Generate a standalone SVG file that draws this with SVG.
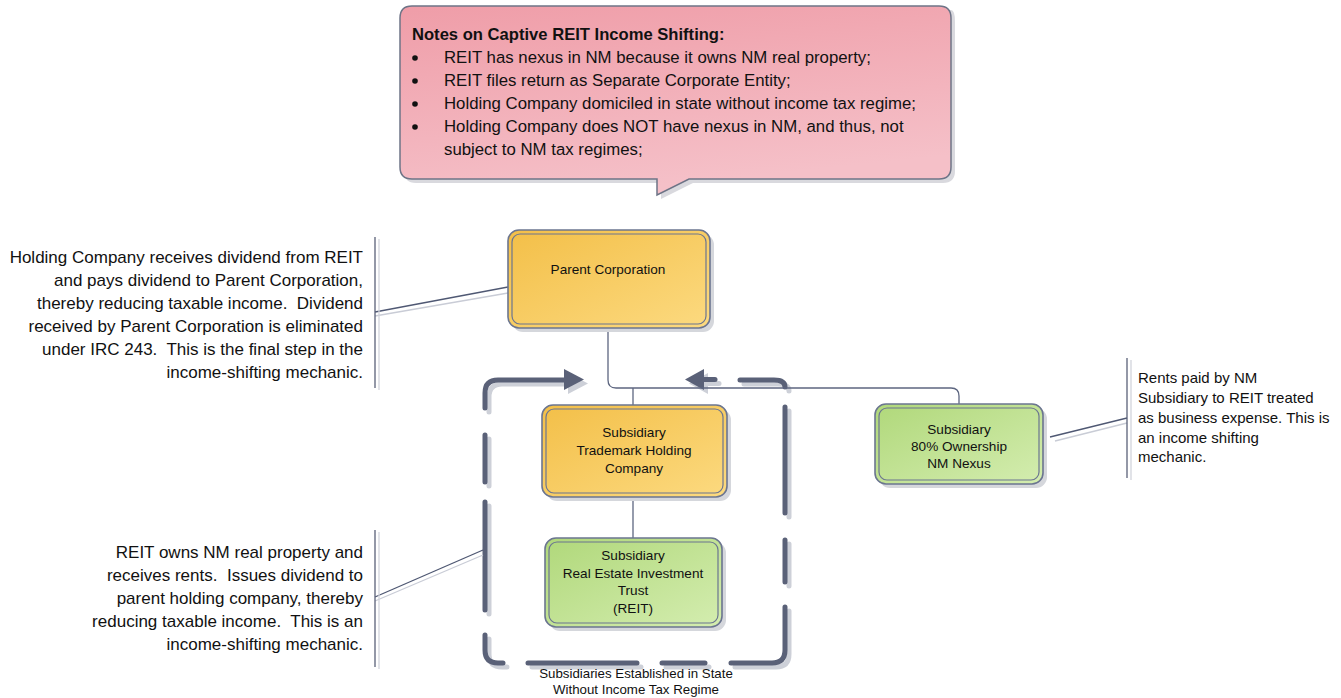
<svg xmlns="http://www.w3.org/2000/svg" width="1341" height="698" viewBox="0 0 1341 698">
<defs>
<linearGradient id="gPink" x1="0" y1="0" x2="0.3" y2="1">
<stop offset="0" stop-color="#ef9da8"/>
<stop offset="1" stop-color="#f5c0c8"/>
</linearGradient>
<linearGradient id="gYel" x1="0" y1="0" x2="1" y2="1">
<stop offset="0" stop-color="#f3bf48"/>
<stop offset="1" stop-color="#fcda80"/>
</linearGradient>
<linearGradient id="gGrn" x1="0" y1="0" x2="1" y2="1">
<stop offset="0" stop-color="#b0d87a"/>
<stop offset="1" stop-color="#d4edb0"/>
</linearGradient>
<style>
text{font-family:"Liberation Sans",Arial,sans-serif;fill:#111;white-space:pre;}
.note{font-size:17px;}
.call{font-size:16.8px;}
.node{font-size:13.6px;text-anchor:middle;}
.outer{stroke:#6b7590;stroke-width:1.6;}
.inner{fill:none;stroke:#6b7590;stroke-width:1.2;}
.shadow{fill:#d5d7dc;}
.conn{fill:none;stroke:#5d6680;stroke-width:1.3;}
.leader{fill:none;stroke:#4f5873;stroke-width:1.3;}
.leaderS{fill:none;stroke:#c9ccd6;stroke-width:1.3;}
.cont{fill:none;stroke:#5a6178;stroke-width:5;stroke-linecap:round;}
.contS{fill:none;stroke:#cdd0d8;stroke-width:5;stroke-linecap:round;}
.contA{fill:#5a6178;}
.contAS{fill:#cdd0d8;}
</style>
</defs>

<rect width="1341" height="698" fill="#ffffff"/>

<!-- Callout -->
<g id="callout">
<path d="M416,10 H951 Q955,10 955,22 V171 Q955,183 943,183 H693 L661,199 V183 H416 Q404,183 404,171 V22 Q404,10 416,10 Z" fill="#d9d9de"/>
<path d="M412,6 H939 Q951,6 951,18 V167 Q951,179 939,179 H689 L657,195 V179 H412 Q400,179 400,167 V18 Q400,6 412,6 Z" fill="url(#gPink)" stroke="#6e7487" stroke-width="1.5"/>
<text x="412" y="40" style="font-size:16.6px;font-weight:bold;">Notes on Captive REIT Income Shifting:</text>
<g fill="#111">
<circle cx="415" cy="58" r="2.8"/>
<circle cx="415" cy="81" r="2.8"/>
<circle cx="415" cy="104" r="2.8"/>
<circle cx="415" cy="127" r="2.8"/>
</g>
<text class="call" x="444" y="63">REIT has nexus in NM because it owns NM real property;</text>
<text class="call" x="444" y="86">REIT files return as Separate Corporate Entity;</text>
<text class="call" x="444" y="109">Holding Company domiciled in state without income tax regime;</text>
<text class="call" x="444" y="132">Holding Company does NOT have nexus in NM, and thus, not</text>
<text class="call" x="444" y="155">subject to NM tax regimes;</text>
</g>

<!-- Container (dashed boundary) -->
<g id="container">
<g transform="translate(4,4)">
<path class="contS" d="M485,408 V393 Q485,380 498,380 H567"/>
<polygon class="contAS" points="564,369 584,379.5 564,390"/>
<polygon class="contAS" points="685,379.5 704,369 704,390"/>
<path class="contS" d="M700,379.5 H715"/>
<path class="contS" d="M740,380 H774 Q785,380 785,387"/>
<path class="contS" d="M785,407 V513 M785,540 V582 M785,607 V650 Q785,663 772,663 H731 M705,663 H662 M637,663 H528 M503,663 H498 Q485,663 485,650 V635 M485,610 V502 M485,482 V435"/>
</g>
<path class="cont" d="M485,408 V393 Q485,380 498,380 H567"/>
<polygon class="contA" points="564,369 584,379.5 564,390"/>
<polygon class="contA" points="685,379.5 704,369 704,390"/>
<path class="cont" d="M700,379.5 H715"/>
<path class="cont" d="M740,380 H774 Q785,380 785,387"/>
<path class="cont" d="M785,407 V513 M785,540 V582 M785,607 V650 Q785,663 772,663 H731 M705,663 H662 M637,663 H528 M503,663 H498 Q485,663 485,650 V635 M485,610 V502 M485,482 V435"/>
<text x="636" y="678" style="font-size:13.3px;text-anchor:middle;">Subsidiaries Established in State</text>
<text x="636" y="694" style="font-size:13.3px;text-anchor:middle;">Without Income Tax Regime</text>
</g>

<!-- Connectors -->
<g id="connectors">
<path class="conn" d="M608,328 V380 Q608,388 616,388 H951 Q959,388 959,396 V404"/>
<path class="conn" d="M633,388 V405"/>
<path class="conn" d="M633,497 V538"/>
<path class="leaderS" d="M375,316 L508,293"/>
<path class="leader" d="M375,312 L508,287"/>
<path class="leaderS" d="M375,601 L483,555"/>
<path class="leader" d="M375,597 L483,550"/>
<path class="leaderS" d="M1055,441 L1127,423"/>
<path class="leader" d="M1050,437 L1127,418"/>
</g>

<!-- Parent Corporation -->
<g id="parent">
<rect class="shadow" x="512" y="234" width="202" height="98" rx="11"/>
<rect class="outer" x="508" y="230" width="202" height="98" rx="11" fill="url(#gYel)"/>
<rect class="inner" x="512" y="234" width="194" height="90" rx="8"/>
<text class="node" x="608" y="274">Parent Corporation</text>
</g>

<!-- Trademark Holding -->
<g id="trademark">
<rect class="shadow" x="546" y="409" width="185" height="92" rx="11"/>
<rect class="outer" x="542" y="405" width="185" height="92" rx="11" fill="url(#gYel)"/>
<rect class="inner" x="546" y="409" width="177" height="84" rx="8"/>
<text class="node" x="634" y="437">Subsidiary</text>
<text class="node" x="634" y="455">Trademark Holding</text>
<text class="node" x="634" y="473">Company</text>
</g>

<!-- REIT -->
<g id="reit">
<rect class="shadow" x="549" y="542" width="177" height="89" rx="11"/>
<rect class="outer" x="545" y="538" width="177" height="89" rx="11" fill="url(#gGrn)"/>
<rect class="inner" x="549" y="542" width="169" height="81" rx="8"/>
<text class="node" x="633" y="560">Subsidiary</text>
<text class="node" x="633" y="577.5">Real Estate Investment</text>
<text class="node" x="633" y="595">Trust</text>
<text class="node" x="633" y="612.5">(REIT)</text>
</g>

<!-- 80% Ownership -->
<g id="nm-sub">
<rect class="shadow" x="879" y="408" width="168" height="80" rx="11"/>
<rect class="outer" x="875" y="404" width="168" height="80" rx="11" fill="url(#gGrn)"/>
<rect class="inner" x="879" y="408" width="160" height="72" rx="8"/>
<text class="node" x="959" y="434">Subsidiary</text>
<text class="node" x="959" y="451">80% Ownership</text>
<text class="node" x="959" y="468">NM Nexus</text>
</g>

<!-- Annotation: Parent -->
<g id="note-parent">
<path d="M379,239 V390" stroke="#d2d4dc" stroke-width="1.3"/>
<path d="M375,237 V388" stroke="#5a6178" stroke-width="1.3"/>
<g class="note" text-anchor="end">
<text x="363" y="263">Holding Company receives dividend from REIT</text>
<text x="363" y="286">and pays dividend to Parent Corporation,</text>
<text x="363" y="309">thereby reducing taxable income.  Dividend</text>
<text x="363" y="332">received by Parent Corporation is eliminated</text>
<text x="363" y="355">under IRC 243.  This is the final step in the</text>
<text x="363" y="378">income-shifting mechanic.</text>
</g>
</g>

<!-- Annotation: REIT -->
<g id="note-reit">
<path d="M379,532 V669" stroke="#d2d4dc" stroke-width="1.3"/>
<path d="M375,530 V667" stroke="#5a6178" stroke-width="1.3"/>
<g class="note" text-anchor="end">
<text x="363" y="558">REIT owns NM real property and</text>
<text x="363" y="581">receives rents.  Issues dividend to</text>
<text x="363" y="604">parent holding company, thereby</text>
<text x="363" y="627">reducing taxable income.  This is an</text>
<text x="363" y="650">income-shifting mechanic.</text>
</g>
</g>

<!-- Annotation: NM subsidiary -->
<g id="note-nm">
<path d="M1131,360 V480" stroke="#d2d4dc" stroke-width="1.3"/>
<path d="M1127,358 V478" stroke="#5a6178" stroke-width="1.3"/>
<g style="font-size:15px;">
<text x="1138" y="383">Rents paid by NM</text>
<text x="1138" y="403">Subsidiary to REIT treated</text>
<text x="1138" y="423">as business expense. This is</text>
<text x="1138" y="443">an income shifting</text>
<text x="1138" y="462">mechanic.</text>
</g>
</g>
</svg>
